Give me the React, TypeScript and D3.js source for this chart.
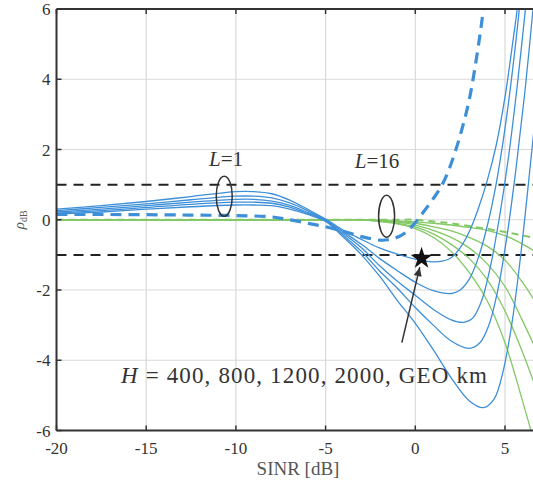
import React from "react";
import * as d3 from "d3";

const W = 533, H = 485;
const xTicks = [-20, -15, -10, -5, 0, 5];
const yTicks = [-6, -4, -2, 0, 2, 4, 6];

// Blue solid curves (L=1), H = 400, 800, 1200, 2000, GEO
const blueX1 = [-20, -17.5, -15, -12.5, -10, -9, -8, -7, -6, -5, -4, -3, -2, -1, 0, 1, 1.5, 2, 2.5, 3, 3.5, 4, 4.5, 5, 5.5, 6];
const blueY1 = [0.3, 0.4, 0.52, 0.66, 0.8, 0.8, 0.74, 0.56, 0.3, 0.02, -0.3, -0.56, -0.8, -0.98, -1.12, -1.2, -1.18, -1.08, -0.8, -0.35, 0.3, 1.1, 2.1, 3.5, 5.3, 7.2];
const blueX2 = [-20, -17.5, -15, -12.5, -10, -9, -8, -7, -6, -5, -4, -3, -2, -1, 0, 1, 2, 2.5, 3, 3.5, 4, 4.5, 5, 5.5, 6];
const blueY2 = [0.26, 0.35, 0.45, 0.57, 0.67, 0.67, 0.62, 0.48, 0.26, 0.0, -0.35, -0.7, -1.1, -1.45, -1.78, -2.02, -2.1, -2.0, -1.7, -1.1, -0.2, 1.0, 2.6, 4.6, 7.0];
const blueX3 = [-20, -17.5, -15, -12.5, -10, -9, -8, -7, -6, -5, -4, -3, -2, -1, 0, 1, 2, 2.7, 3.2, 3.7, 4.2, 4.7, 5.2, 5.7, 6.2];
const blueY3 = [0.22, 0.3, 0.4, 0.5, 0.58, 0.58, 0.53, 0.41, 0.21, -0.02, -0.4, -0.8, -1.3, -1.75, -2.15, -2.55, -2.85, -2.92, -2.8, -2.3, -1.3, 0.1, 1.8, 3.9, 6.3];
const blueX4 = [-20, -17.5, -15, -12.5, -10, -9, -8, -7, -6, -5, -4, -3, -2, -1, 0, 1, 2, 3, 3.6, 4.1, 4.6, 5.1, 5.6, 6.1, 6.6];
const blueY4 = [0.19, 0.26, 0.35, 0.44, 0.5, 0.5, 0.47, 0.36, 0.18, -0.03, -0.45, -0.9, -1.45, -1.95, -2.5, -3.0, -3.45, -3.66, -3.5, -3.0, -2.0, -0.5, 1.4, 3.6, 6.2];
const blueX5 = [-20, -17.5, -15, -12.5, -10, -9, -8, -7, -6, -5, -4, -3, -2, -1, 0, 1, 2, 3, 3.8, 4.4, 4.9, 5.4, 5.9, 6.4, 6.9];
const blueY5 = [0.16, 0.22, 0.3, 0.37, 0.42, 0.42, 0.4, 0.3, 0.15, -0.05, -0.5, -1.0, -1.6, -2.3, -2.95, -3.7, -4.5, -5.15, -5.35, -5.1, -4.3, -2.9, -0.9, 1.5, 4.0];

// Blue dashed (L=1, reference)
const dashX = [-20, -17, -14, -12, -10, -8, -7, -6, -5, -4, -3, -2, -1.5, -1, -0.5, 0, 0.5, 1, 1.5, 2, 2.5, 3, 3.5, 3.8, 4.1];
const dashY = [0.15, 0.15, 0.14, 0.13, 0.12, 0.08, 0.0, -0.1, -0.2, -0.33, -0.48, -0.58, -0.57, -0.5, -0.35, -0.08, 0.25, 0.6, 1.0, 1.6, 2.4, 3.4, 4.9, 6.0, 7.2];

// Green curves (L=16)
const greenX = [-20, -15, -10, -5, -3, -2, -1, 0, 1, 2, 3, 4, 5, 6, 7];
const greenY1 = [0, 0, 0, 0, 0, -0.01, -0.03, -0.06, -0.1, -0.15, -0.22, -0.3, -0.45, -0.7, -1.0];
const greenY2 = [0, 0, 0, 0, 0, -0.02, -0.05, -0.1, -0.2, -0.32, -0.5, -0.75, -1.15, -1.8, -2.6];
const greenY3 = [0, 0, 0, 0, 0, -0.03, -0.07, -0.15, -0.3, -0.5, -0.8, -1.25, -1.9, -2.9, -4.0];
const greenY4 = [0, 0, 0, 0, 0, -0.04, -0.1, -0.2, -0.4, -0.7, -1.1, -1.7, -2.6, -3.8, -5.2];
const greenY5 = [0, 0, 0, 0, 0, -0.05, -0.12, -0.25, -0.5, -0.9, -1.5, -2.3, -3.5, -5.2, -7.0];
const greenDashY = [0, 0, 0, 0, 0, 0, 0, 0, -0.05, -0.1, -0.18, -0.26, -0.35, -0.45, -0.55];

const thresholds = [1, -1];

const blueSeries = [
  [blueX1, blueY1], [blueX2, blueY2], [blueX3, blueY3], [blueX4, blueY4], [blueX5, blueY5],
];
const greenSeries = [greenY1, greenY2, greenY3, greenY4, greenY5];

const FONT = "Liberation Serif";

export default function App() {
  const x = d3.scaleLinear().domain([-20, 5]).range([56.5, 505]);
  const y = d3.scaleLinear().domain([-6, 6]).range([430.5, 9]);
  const left = x(-20), right = W, top = y(6), bottom = y(-6);

  const line = (xs: number[], ys: number[]) =>
    d3.line<number>()
      .x((_, i) => x(xs[i]))
      .y((d) => y(d))
      .curve(d3.curveCatmullRom.alpha(0.5))(ys) || "";

  const blue = "#3d8fd8";
  const green = "#82c865";

  const star = d3.symbol().type(d3.symbolStar).size(150)() || "";
  const starPos = [x(0.35), y(-1.1)];
  const arrowFrom = [x(-0.75), y(-3.5)];
  const arrowTo = [x(0.25), y(-1.35)];
  const ang = Math.atan2(arrowTo[1] - arrowFrom[1], arrowTo[0] - arrowFrom[0]);

  return (
    <svg width={W} height={H} style={{ position: "absolute", left: 0, top: 0, background: "#fff" }}>
      <defs>
        <clipPath id="plot">
          <rect x={left} y={top} width={right - left} height={bottom - top} />
        </clipPath>
      </defs>
      <rect x={0} y={0} width={W} height={H} fill="#fff" />
      {/* grid */}
      {xTicks.filter((t) => t > -20).map((t) => (
        <line key={"gx" + t} x1={x(t)} x2={x(t)} y1={top} y2={bottom} stroke="#d9d9d9" strokeWidth={1.2} />
      ))}
      {yTicks.filter((t) => t > -6 && t < 6).map((t) => (
        <line key={"gy" + t} x1={left} x2={right} y1={y(t)} y2={y(t)} stroke="#d9d9d9" strokeWidth={1.2} />
      ))}
      <g clipPath="url(#plot)">
        {thresholds.map((t) => (
          <line key={"th" + t} x1={left} x2={right} y1={y(t)} y2={y(t)} stroke="#222" strokeWidth={2} strokeDasharray="10,7" />
        ))}
        {greenSeries.map((ys, i) => (
          <path key={"g" + i} d={line(greenX, ys)} fill="none" stroke={green} strokeWidth={1.3} />
        ))}
        <path d={line(greenX, greenDashY)} fill="none" stroke={green} strokeWidth={2} strokeDasharray="7,5" />
        {blueSeries.map(([xs, ys], i) => (
          <path key={"b" + i} d={line(xs, ys)} fill="none" stroke={blue} strokeWidth={1.3} />
        ))}
        <path d={line(dashX, dashY)} fill="none" stroke={blue} strokeWidth={3.2} strokeDasharray="11,7" />
      </g>
      {/* axes */}
      <line x1={left} x2={left} y1={top} y2={bottom} stroke="#333" strokeWidth={2} />
      <line x1={left} x2={right} y1={bottom} y2={bottom} stroke="#333" strokeWidth={2} />
      <line x1={left} x2={right} y1={top} y2={top} stroke="#333" strokeWidth={2} />
      {xTicks.map((t) => (
        <g key={"xt" + t}>
          <line x1={x(t)} x2={x(t)} y1={bottom} y2={bottom - 5} stroke="#333" strokeWidth={1.5} />
          <line x1={x(t)} x2={x(t)} y1={top} y2={top + 5} stroke="#333" strokeWidth={1.5} />
          <text x={x(t)} y={454} textAnchor="middle" fontFamily={FONT} fontSize={17} fill="#333">{t}</text>
        </g>
      ))}
      {yTicks.map((t) => (
        <g key={"yt" + t}>
          <line x1={left} x2={left + 5} y1={y(t)} y2={y(t)} stroke="#333" strokeWidth={1.5} />
          <text x={left - 6} y={y(t) + 6} textAnchor="end" fontFamily={FONT} fontSize={17} fill="#333">{t}</text>
        </g>
      ))}
      <text x={298} y={475} textAnchor="middle" fontFamily={FONT} fontSize={19} fill="#555">SINR [dB]</text>
      <text transform={`translate(24, ${y(0)}) rotate(-90)`} textAnchor="middle" fontFamily={FONT} fontSize={15} fill="#555">
        <tspan fontStyle="italic">ρ</tspan>
        <tspan fontSize={10} dy={3}>dB</tspan>
      </text>
      {/* annotations */}
      <text x={226} y={166} textAnchor="middle" fontFamily={FONT} fontSize={21} fill="#333">
        <tspan fontStyle="italic">L</tspan>=1
      </text>
      <ellipse cx={x(-10.65)} cy={y(0.67)} rx={8} ry={20} fill="none" stroke="#333" strokeWidth={1.5} />
      <text x={377} y={168} textAnchor="middle" fontFamily={FONT} fontSize={21} fill="#333">
        <tspan fontStyle="italic">L</tspan>=16
      </text>
      <ellipse cx={x(-1.6)} cy={y(0.1)} rx={8} ry={21} fill="none" stroke="#333" strokeWidth={1.5} />
      <line x1={arrowFrom[0]} y1={arrowFrom[1]} x2={arrowTo[0]} y2={arrowTo[1]} stroke="#333" strokeWidth={1.5} />
      <path
        d={`M0,0 L-9,-4 L-9,4 Z`}
        transform={`translate(${arrowTo[0]},${arrowTo[1]}) rotate(${(ang * 180) / Math.PI})`}
        fill="#333"
      />
      <path d={star} transform={`translate(${starPos[0]},${starPos[1]})`} fill="#111" />
      <text x={121} y={383} fontFamily={FONT} fontSize={23} fill="#333" textLength={366} lengthAdjust="spacing">
        <tspan fontStyle="italic">H</tspan> = 400, 800, 1200, 2000, GEO km
      </text>
    </svg>
  );
}
